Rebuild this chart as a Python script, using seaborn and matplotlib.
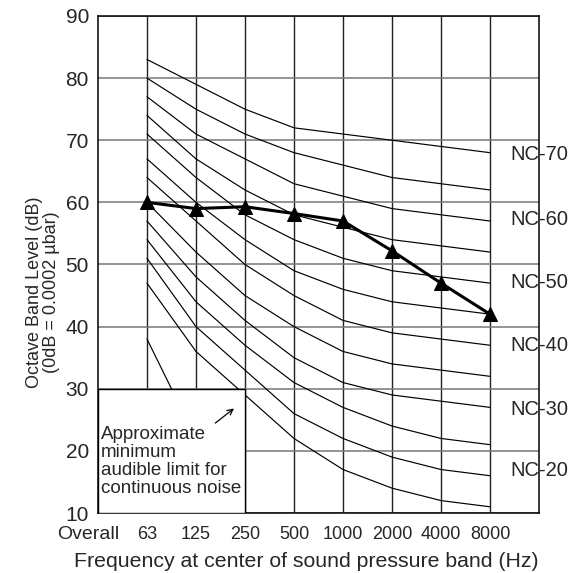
import numpy as np
import pandas as pd
import matplotlib.pyplot as plt
import seaborn as sns
from matplotlib.patches import Rectangle

sns.set_style("white")
plt.rcParams['font.family'] = ['Liberation Sans', 'DejaVu Sans']

# octave bands (center frequency, Hz)
bands = ["63", "125", "250", "500", "1000", "2000", "4000", "8000"]
band_pos = [1, 2, 3, 4, 5, 6, 7, 8]

# NC curves, levels in dB per band
nc_70 = [83, 79, 75, 72, 71, 70, 69, 68]
nc_65 = [80, 75, 71, 68, 66, 64, 63, 62]
nc_60 = [77, 71, 67, 63, 61, 59, 58, 57]
nc_55 = [74, 67, 62, 58, 56, 54, 53, 52]
nc_50 = [71, 64, 58, 54, 51, 49, 48, 47]
nc_45 = [67, 60, 54, 49, 46, 44, 43, 42]
nc_40 = [64, 57, 50, 45, 41, 39, 38, 37]
nc_35 = [60, 52, 45, 40, 36, 34, 33, 32]
nc_30 = [57, 48, 41, 35, 31, 29, 28, 27]
nc_25 = [54, 44, 37, 31, 27, 24, 22, 21]
nc_20 = [51, 40, 33, 26, 22, 19, 17, 16]
nc_15 = [47, 36, 29, 22, 17, 14, 12, 11]
nc_low = [38, 22]  # short stub at 63 Hz, mostly hidden by the note box

# measured spectrum
measured = [60, 59, 59.3, 58.2, 57, 52.2, 47, 42]

# curve labels on the right
nc_names = ["NC-70", "NC-60", "NC-50", "NC-40", "NC-30", "NC-20"]
nc_name_levels = [67.7, 57.3, 47.1, 36.9, 26.7, 16.8]

curves = {"NC-70": nc_70, "NC-65": nc_65, "NC-60": nc_60, "NC-55": nc_55,
          "NC-50": nc_50, "NC-45": nc_45, "NC-40": nc_40, "NC-35": nc_35,
          "NC-30": nc_30, "NC-25": nc_25, "NC-20": nc_20, "NC-15": nc_15,
          "NC-low": nc_low}
rows = []
for name, vals in curves.items():
    for p, v in zip(band_pos, vals):
        rows.append({"curve": name, "pos": p, "level": v})
df_nc = pd.DataFrame(rows)
df_meas = pd.DataFrame({"pos": band_pos, "level": measured})

fig = plt.figure(figsize=(5.72, 5.73), dpi=100)
ax = fig.add_axes([0.1713, 0.1047, 0.771, 0.8674])

sns.lineplot(data=df_nc, x="pos", y="level", units="curve", estimator=None,
             color="black", lw=0.85, legend=False, ax=ax, zorder=2)

# note box in the lower left corner hides the grid and curves
ax.add_patch(Rectangle((0, 10), 3, 20, facecolor="white", edgecolor="black",
                       lw=1.0, zorder=3))

sns.lineplot(data=df_meas, x="pos", y="level", color="black", lw=2.2,
             marker="^", markersize=10, markeredgecolor="black", ax=ax, zorder=5)

ax.set_xlim(0, 9)
ax.set_ylim(10, 90)
ax.set_xticks(band_pos)
ax.set_xticklabels(bands, fontsize=13)
ax.set_yticks(range(10, 91, 10))
ax.tick_params(axis="x", length=0, pad=9)
ax.tick_params(axis="y", length=3.5, width=1, pad=3, labelsize=15, color="black")
ax.grid(axis="x", color="#222222", lw=1.0, zorder=0)
ax.grid(axis="y", color="#777777", lw=1.1, zorder=0)
ax.set_axisbelow(True)
for s in ax.spines.values():
    s.set_color("black")
    s.set_linewidth(1.1)

ax.text(-0.2, -0.052, "Overall", transform=ax.get_xaxis_transform(),
        ha="center", va="baseline", fontsize=14)

for name, lev in zip(nc_names, nc_name_levels):
    ax.text(8.41, lev, name, ha="left", va="center", fontsize=14.5, clip_on=False)

ax.text(0.06, 24.0, "Approximate\nminimum\naudible limit for\ncontinuous noise",
        ha="left", va="top", fontsize=13.5, linespacing=1.07, zorder=6)
ax.annotate("", xy=(2.82, 27.1), xytext=(2.35, 24.2),
            arrowprops=dict(arrowstyle="->", color="black", lw=0.9), zorder=6)

ax.set_xlabel("Frequency at center of sound pressure band (Hz)", fontsize=15.3)
ax.xaxis.set_label_coords((306 - 98) / 441, -(561 - 513) / 497)
ax.xaxis.label.set_va("center")
ax.set_ylabel("Octave Band Level (dB)\n(0dB = 0.0002 µbar)", fontsize=13,
              linespacing=0.95, multialignment="center")
ax.yaxis.set_label_coords((43 - 98) / 441, (513 - 292) / 497)
ax.yaxis.label.set_va("center")

plt.savefig("out.png", dpi=100)
